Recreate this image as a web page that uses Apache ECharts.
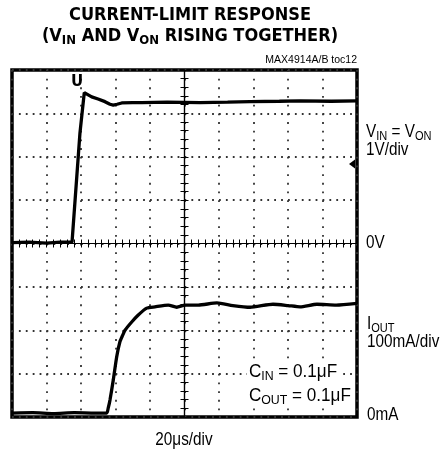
<!DOCTYPE html>
<html>
<head>
<meta charset="utf-8">
<style>
  html, body { margin: 0; padding: 0; background: #fff; }
  #chart { width: 442px; height: 459px; }
</style>
</head>
<body>
<div id="chart"></div>
<script src="https://cdn.jsdelivr.net/npm/echarts@6/dist/echarts.min.js"></script>
<script>
// scope traces, time in us (20us/div, 0 = screen centre)
var vinTime = [-100, -90, -80, -72, -65.2, -60.6, -58.1, -57.1, -53.8, -50.1, -46.1, -43.2, -41.3, -39.1, -36.4, -30, -24.8, -10, 9, 25, 38, 55, 67, 85, 100];
var vinVolts = [0.02, 0.03, 0.01, 0.03, 0.03, 2.55, 3.48, 3.44, 3.38, 3.33, 3.27, 3.21, 3.19, 3.21, 3.24, 3.25, 3.25, 3.26, 3.25, 3.26, 3.27, 3.28, 3.29, 3.28, 3.29];

var ioutTime = [-100, -88, -76, -64, -52, -45.1, -44.2, -43.2, -41.3, -39.3, -37.4, -35.9, -34.5, -30.6, -26.8, -21.9, -17.1, -9.4, -4.5, 0.3, 8, 18.8, 28, 38, 51.3, 60, 67, 76.8, 88, 100];
var ioutMilliamps = [9, 10, 8, 10, 9, 9, 21, 39, 85, 139, 174, 188, 200, 219, 235, 251, 254, 258, 253, 258, 258, 263, 257, 253, 260, 257, 254, 260, 258, 262];

var sans = '"Liberation Sans", Arial, sans-serif';
var squeeze = 0.85; // no narrow face installed, so squash Liberation Sans instead

function pairs(xs, ys) {
    return xs.map(function (x, i) { return [x, ys[i]]; });
}

var subRich = {
    a: { fontFamily: sans, fontSize: 18, lineHeight: 22, fill: '#000' },
    s: { fontFamily: sans, fontSize: 13, lineHeight: 12, verticalAlign: 'bottom', fill: '#000' }
};

function label(x, y, text, extra, sx) {
    var el = {
        type: 'text', x: x, y: y, scaleX: sx || squeeze,
        style: { text: text, fontFamily: sans, fontSize: 18, fill: '#000', verticalAlign: 'middle', rich: subRich }
    };
    if (extra) Object.assign(el.style, extra);
    return el;
}

var chart = echarts.init(document.getElementById('chart'), null, { renderer: 'canvas' });

// centre lines with the little scope ticks on both sides
function centreAxis(pos, extra) {
    var ax = {
        type: 'value',
        position: pos,
        axisLine: { show: true, onZero: true, onZeroAxisIndex: 0, lineStyle: { color: '#000', width: 1.2 } },
        axisTick: { show: true, inside: false, length: 4, lineStyle: { color: '#000', width: 1 } },
        minorTick: { show: true, splitNumber: 5, length: 4, lineStyle: { color: '#000', width: 1 } },
        axisLabel: { show: false },
        splitLine: { show: false }
    };
    return Object.assign(ax, extra);
}

var capBox = { backgroundColor: '#fff', padding: [1, 2, 1, 2] };

var option = {
    animation: false,
    backgroundColor: '#fff',
    title: {
        left: 185,
        top: 0,
        textAlign: 'center',
        text: '{a|CURRENT-LIMIT RESPONSE}\n{a|(V}{s|IN}{a| AND V}{s|ON}{a| RISING TOGETHER)}',
        textStyle: {
            rich: {
                a: { fontFamily: '"DejaVu Sans Condensed", sans-serif', fontWeight: 'bold', fontSize: 18, lineHeight: 21, color: '#000' },
                s: { fontFamily: '"DejaVu Sans Condensed", sans-serif', fontWeight: 'bold', fontSize: 13, lineHeight: 11, verticalAlign: 'bottom', color: '#000' }
            }
        }
    },
    grid: {
        left: 12, top: 70, right: 85, bottom: 42,
        show: true, borderColor: '#000', borderWidth: 3.5, backgroundColor: 'transparent'
    },
    xAxis: [
        centreAxis('bottom', {
            min: -100, max: 100, interval: 20,
            splitLine: { show: true, lineStyle: { color: '#333', width: 1.8, type: [1.8, 6.88] } }
        }),
        centreAxis('top', { min: -100, max: 100, interval: 20 })
    ],
    yAxis: [
        centreAxis('left', {
            min: -4, max: 4, interval: 1,
            splitLine: { show: true, lineStyle: { color: '#333', width: 1.8, type: [1.8, 5.1] } }
        }),
        centreAxis('right', { min: -4, max: 4, interval: 1 }),
        { type: 'value', show: false, min: 0, max: 800 }
    ],
    series: [
        {
            name: 'VIN',
            type: 'line',
            xAxisIndex: 0,
            yAxisIndex: 0,
            data: pairs(vinTime, vinVolts),
            showSymbol: false,
            lineStyle: { color: '#000', width: 3.3 },
            z: 5
        },
        {
            name: 'IOUT',
            type: 'line',
            xAxisIndex: 0,
            yAxisIndex: 2,
            data: pairs(ioutTime, ioutMilliamps),
            showSymbol: false,
            smooth: 0.2,
            lineStyle: { color: '#000', width: 3.3 },
            z: 5
        }
    ],
    graphic: [
        { type: 'text', x: 357, y: 60, style: { text: 'MAX4914A/B toc12', fontFamily: sans, fontSize: 10.5, fill: '#000', align: 'right', verticalAlign: 'middle' } },
        { type: 'text', x: 77, y: 82, z: 10, style: { text: 'U', fontFamily: '"DejaVu Sans", sans-serif', fontWeight: 'bold', fontSize: 15, fill: '#000', align: 'center', verticalAlign: 'middle' } },
        { type: 'polygon', z: 10, shape: { points: [[349, 164], [355, 159.5], [355, 168.5]] }, style: { fill: '#000' } },
        label(366, 132, '{a|V}{s|IN}{a| = V}{s|ON}'),
        label(366, 150, '1V/div'),
        label(366, 243, '0V'),
        label(367, 324, '{a|I}{s|OUT}'),
        label(367, 342, '100mA/div'),
        label(367, 415, '0mA'),
        Object.assign(label(247, 372, '{a|C}{s|IN}{a| = 0.1\u03bcF}', capBox, 0.95), { z: 8 }),
        Object.assign(label(247, 396, '{a|C}{s|OUT}{a| = 0.1\u03bcF}', capBox, 0.95), { z: 8 }),
        label(184, 440, '20\u03bcs/div', { align: 'center' })
    ]
};

chart.setOption(option);
</script>
</body>
</html>
